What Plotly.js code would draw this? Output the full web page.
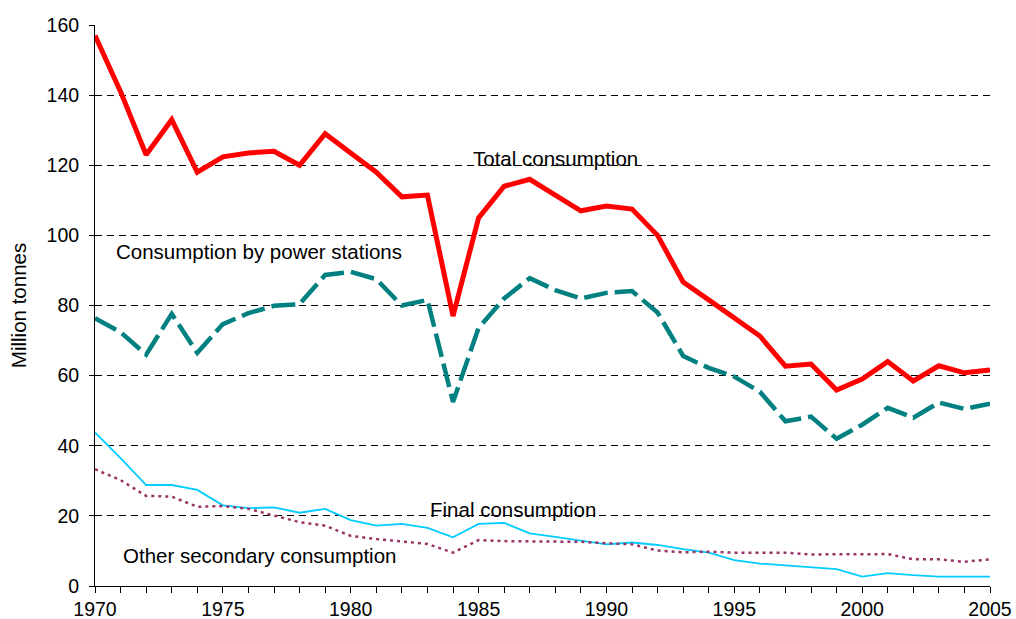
<!DOCTYPE html>
<html>
<head>
<meta charset="utf-8">
<script src="https://cdn.plot.ly/plotly-3.0.1.min.js"></script>
<style>
  body { margin: 0; background: #fff; }
  #graph { width: 1016px; height: 619px; }
</style>
</head>
<body>
<div id="graph"></div>
<script>
var years = [];
for (var y = 1970; y <= 2005; y++) years.push(y);

var totalConsumption = [157, 141, 123, 133, 118, 122.4, 123.5, 124, 120, 129, 123.5, 118, 111, 111.5,
    77, 105, 114, 116, 111.5, 107, 108.4, 107.5, 100, 86.7, 81.6, 76.4, 71.3, 62.7, 63.3, 55.9,
    59, 64, 58.5, 62.8, 60.8, 61.6];
var powerStations = [76.4, 72.4, 66, 77.6, 66.5, 74.7, 77.8, 79.9, 80.4, 88.7, 89.6, 87.5, 80, 81.6,
    52.5, 73.6, 82, 87.8, 84.4, 82, 83.6, 84.1, 78, 65.6, 62.2, 59.7, 55.4, 47, 48.3, 42,
    46, 50.8, 48, 52.3, 50.5, 52];
var finalConsumption = [43.8, 36.5, 28.8, 28.8, 27.4, 23, 22.2, 22.4, 20.9, 22, 18.8, 17.2, 17.7, 16.6,
    13.9, 17.7, 18, 15, 14, 12.9, 11.9, 12.4, 11.7, 10.5, 9.5, 7.4, 6.4, 5.9, 5.3, 4.8,
    2.7, 3.7, 3.1, 2.7, 2.7, 2.7];
var otherSecondary = [33.3, 30.2, 25.7, 25.5, 22.6, 22.8, 22, 20, 18.2, 17.2, 14.3, 13.4, 12.8, 12,
    9.5, 13.1, 12.8, 12.8, 12.8, 12.6, 12.2, 11.9, 10.1, 9.6, 9.8, 9.5, 9.5, 9.5, 9.0, 9.0,
    9.0, 9.1, 7.6, 7.6, 6.9, 7.6];

var xTicks = [1970, 1975, 1980, 1985, 1990, 1995, 2000, 2005];
var yTicks = [0, 20, 40, 60, 80, 100, 120, 140, 160];

var fontFamily = '"Liberation Sans", Arial, sans-serif';

var traces = [
    {
        x: years, y: totalConsumption, mode: 'lines', name: 'Total consumption',
        line: { color: '#ff0000', width: 5 }
    },
    {
        x: years, y: powerStations, mode: 'lines', name: 'Consumption by power stations',
        line: { color: '#008080', width: 4.5, dash: '24px,7px' }
    },
    {
        x: years, y: finalConsumption, mode: 'lines', name: 'Final consumption',
        line: { color: '#00ccff', width: 1.8 }
    },
    {
        x: years, y: otherSecondary, mode: 'lines', name: 'Other secondary consumption',
        line: { color: '#993366', width: 2.5, dash: '3px,4px' }
    }
];

var tickFont = { family: fontFamily, size: 19.5, color: '#000' };
var labelFont = { family: fontFamily, size: 20.5, color: '#000' };

var layout = {
    width: 1016,
    height: 619,
    margin: { l: 95, r: 26, t: 25, b: 33 },
    paper_bgcolor: '#fff',
    plot_bgcolor: '#fff',
    showlegend: false,
    font: labelFont,
    xaxis: {
        range: [1970, 2005],
        tickmode: 'array',
        tickvals: xTicks,
        ticktext: xTicks.map(String),
        ticks: 'outside',
        ticklen: 6,
        tickcolor: '#000',
        showline: true,
        linecolor: '#000',
        linewidth: 1,
        showgrid: false,
        zeroline: false,
        tickfont: tickFont,
        minor: { dtick: 1, ticks: 'outside', ticklen: 6, tickcolor: '#000', showgrid: false }
    },
    yaxis: {
        range: [0, 160],
        tickmode: 'array',
        tickvals: yTicks,
        ticks: 'outside',
        ticklen: 5,
        tickcolor: '#000',
        showline: true,
        linecolor: '#000',
        linewidth: 1,
        showgrid: true,
        gridcolor: '#000',
        gridwidth: 1,
        griddash: '7px,5px',
        zeroline: false,
        tickfont: tickFont,
        ticklabelstandoff: 6,
        title: { text: 'Million tonnes', font: labelFont, standoff: 14 }
    },
    annotations: [
        { x: 1988.0, y: 122, xref: 'x', yref: 'y', text: 'Total consumption', showarrow: false, font: labelFont },
        { x: 1976.4, y: 95.3, xref: 'x', yref: 'y', text: 'Consumption by power stations', showarrow: false, font: labelFont },
        { x: 1986.35, y: 21.7, xref: 'x', yref: 'y', text: 'Final consumption', showarrow: false, font: labelFont },
        { x: 1976.45, y: 8.6, xref: 'x', yref: 'y', text: 'Other secondary consumption', showarrow: false, font: labelFont }
    ]
};

Plotly.newPlot('graph', traces, layout, { staticPlot: true });
</script>
</body>
</html>
